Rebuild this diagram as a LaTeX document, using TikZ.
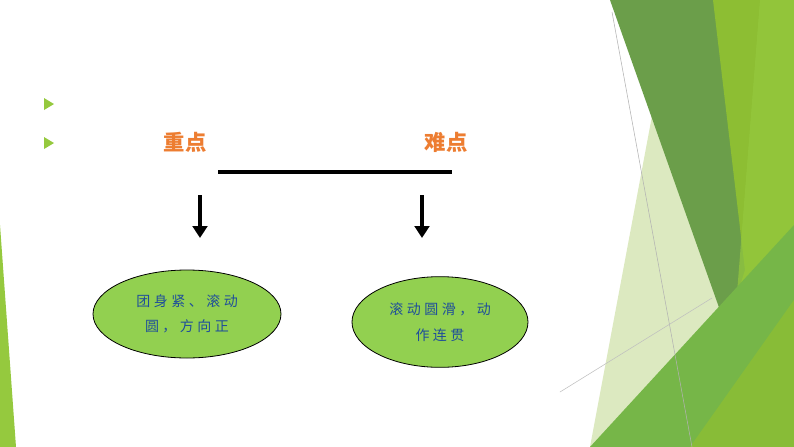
\documentclass[tikz,border=0pt]{standalone}
\usepackage{fontspec}
\newfontfamily\cjk{Noto Sans CJK SC}
\newfontfamily\cjksp[LetterSpace=25]{Noto Sans CJK SC}
\usetikzlibrary{arrows.meta,shapes.geometric}
\definecolor{dg}{HTML}{6B9E4A}
\definecolor{lg}{HTML}{8DBE33}
\definecolor{mg}{HTML}{76B648}
\definecolor{pg}{HTML}{DCE9C0}
\definecolor{bg}{HTML}{95C93E}
\definecolor{og}{HTML}{ED7D31}
\definecolor{tb}{HTML}{1F4E9A}
\definecolor{ef}{HTML}{92D050}
\tikzset{lab/.style={font=\cjk\bfseries\fontsize{16}{18}\selectfont,text=og},
 oval/.style={ellipse,draw=black,fill=ef,font=\cjksp\fontsize{10.5}{19}\selectfont,text=tb,align=center,line width=0.6pt,inner sep=0pt},
 bul/.style={fill=bg,draw=none}}
\begin{document}
\begin{tikzpicture}[x=0.75pt,y=-0.75pt]
\useasboundingbox (0,0) rectangle (794,447);
\fill[white] (0,0) rectangle (794,447);
% decoration
\fill[pg] (655,100) -- (725,300) -- (610,447) -- (590,447) -- cycle;
\fill[dg] (610,0) -- (715,0) -- (748,270) -- (727,330) -- cycle;
\fill[lg] (713,0) -- (794,0) -- (794,447) -- (690,447) -- (745,270) -- cycle;
\fill[bg,opacity=0.7] (760,0) -- (794,0) -- (794,447) -- (725,447) -- cycle;
\fill[mg] (590,447) -- (794,225) -- (794,447) -- cycle;
\fill[lg,opacity=0.8] (690,447) -- (794,300) -- (794,447) -- cycle;
\fill[bg] (0,225) -- (16,447) -- (0,447) -- cycle;
\draw[gray!60,line width=0.4pt] (612,12) -- (692,447);
\draw[gray!50,line width=0.4pt] (560,392) -- (712,298);
% bullets
\fill[bul] (44,98) -- (54,104) -- (44,110) -- cycle;
\fill[bul] (44,137) -- (54,143) -- (44,149) -- cycle;
% content
\node[lab] (zd) at (185,142) {重点};
\node[lab] (nd) at (446,142) {难点};
\coordinate (la) at (218,172);
\coordinate (lb) at (452,172);
\draw[line width=2.4pt] (la) -- (lb);
\node[oval,minimum width=141pt,minimum height=66pt] (e1) at (187,314) {团身紧、滚动\\圆，方向正};
\node[oval,minimum width=132pt,minimum height=68pt] (e2) at (440,322) {滚动圆滑，动\\作连贯};
\coordinate (a1) at (200,195);
\coordinate (a2) at (422,195);
\draw[line width=2.4pt,-{Triangle[length=9pt,width=11pt]}] (a1) -- (200,238);
\draw[line width=2.4pt,-{Triangle[length=9pt,width=11pt]}] (a2) -- (422,238);
\end{tikzpicture}
\end{document}
